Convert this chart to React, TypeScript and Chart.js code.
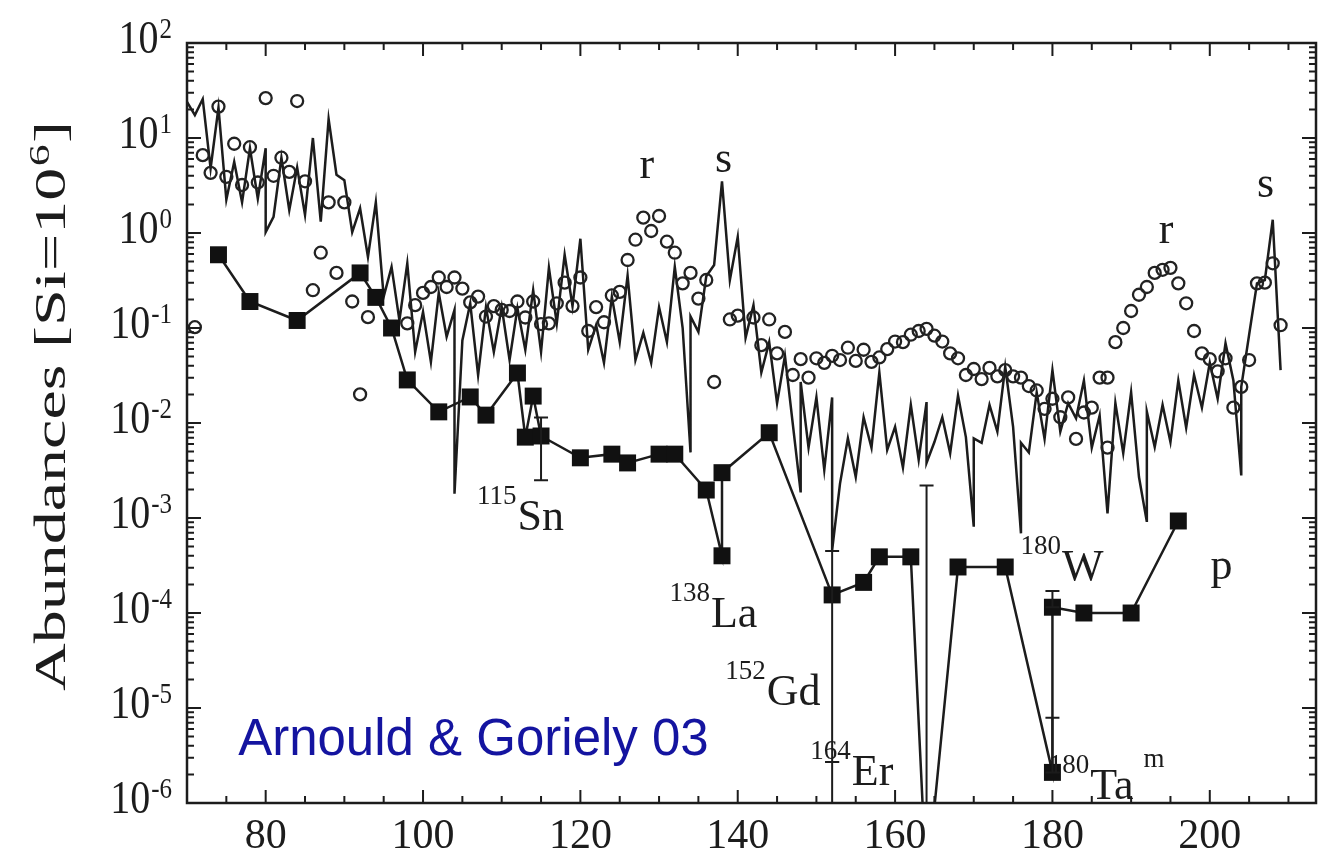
import React, { useEffect, useRef } from 'react';
import { Chart, registerables } from 'chart.js';
Chart.register(...registerables);

// Solar system abundances (solid line), mass number vs abundance
const lineMass = [70, 71, 72, 73, 74, 75, 76, 77, 78, 79, 80, 80, 81, 82, 83, 84, 85, 86, 87, 88, 89, 90, 91, 92, 93, 94, 95, 96, 97, 98, 99, 100, 101, 102, 103, 104, 104, 105, 106, 107, 108, 109, 110, 111, 112, 113, 114, 115, 116, 117, 118, 119, 120, 121, 122, 123, 124, 125, 126, 127, 128, 129, 130, 131, 132, 133, 134, 134, 135, 136, 137, 138, 139, 140, 141, 142, 143, 144, 145, 146, 148, 148, 149, 150, 151, 152, 152, 153, 154, 155, 156, 157, 158, 159, 160, 161, 162, 163, 164, 164, 165, 166, 167, 168, 169, 170, 170, 171, 172, 173, 174, 175, 176, 176, 177, 178, 179, 180, 181, 182, 183, 184, 185, 186, 187, 188, 189, 190, 191, 192, 192, 193, 194, 195, 196, 197, 198, 199, 200, 201, 202, 203, 204, 204, 205, 206, 207, 208, 209];
const lineAbund = [24, 17.4, 25.7, 4.8, 20.9, 2.24, 5.6, 2.1, 7.8, 2.3, 7.8, 1.02, 1.48, 6.2, 1.74, 4.9, 1.55, 10, 1.32, 15.8, 4.1, 3.6, 1.02, 1.82, 0.56, 2.1, 0.214, 0.44, 0.12, 0.48, 0.056, 0.148, 0.044, 0.234, 0.081, 0.155, 0.0018, 0.074, 0.182, 0.032, 0.166, 0.056, 0.166, 0.046, 0.162, 0.059, 0.25, 0.056, 0.43, 0.112, 0.59, 0.17, 0.87, 0.059, 0.107, 0.043, 0.214, 0.071, 0.355, 0.046, 0.089, 0.043, 0.166, 0.071, 0.44, 0.1, 0.0049, 0.132, 0.091, 0.35, 0.46, 3.5, 0.32, 0.91, 0.079, 0.174, 0.034, 0.071, 0.0162, 0.051, 0.00186, 0.027, 0.0055, 0.0186, 0.0032, 0.0186, 0.00046, 0.0023, 0.0069, 0.0027, 0.0115, 0.0055, 0.034, 0.0052, 0.0091, 0.0034, 0.0155, 0.0041, 0.0166, 0.0038, 0.0063, 0.0115, 0.0048, 0.0195, 0.0071, 0.00081, 0.0069, 0.0062, 0.0155, 0.0081, 0.039, 0.0091, 0.00069, 0.0062, 0.0049, 0.021, 0.0068, 0.036, 0.0081, 0.0162, 0.0112, 0.028, 0.0055, 0.012, 0.00112, 0.0162, 0.0048, 0.021, 0.0027, 0.00091, 0.0132, 0.0056, 0.0155, 0.0063, 0.028, 0.0089, 0.032, 0.0145, 0.043, 0.018, 0.069, 0.028, 0.0028, 0.024, 0.085, 0.295, 0.32, 1.38, 0.036];

// r-process abundances (open circles)
const rMass = [71, 72, 73, 74, 75, 76, 77, 78, 79, 80, 81, 82, 83, 84, 85, 86, 87, 88, 89, 90, 91, 92, 93, 96, 98, 99, 100, 101, 102, 103, 104, 105, 106, 107, 108, 109, 110, 111, 112, 113, 114, 115, 116, 117, 118, 119, 120, 121, 122, 123, 124, 125, 126, 127, 128, 129, 130, 131, 132, 133, 134, 135, 136, 137, 139, 140, 142, 143, 144, 145, 146, 147, 148, 149, 150, 151, 152, 153, 154, 155, 156, 157, 158, 159, 160, 161, 162, 163, 164, 165, 166, 167, 168, 169, 170, 171, 172, 173, 174, 175, 176, 177, 178, 179, 180, 181, 182, 183, 184, 185, 186, 187, 187, 188, 189, 190, 191, 192, 193, 194, 195, 196, 197, 198, 199, 200, 201, 202, 203, 204, 205, 206, 207, 208, 209];
const rAbund = [0.102, 6.6, 4.3, 21.4, 3.9, 8.7, 3.2, 8.0, 3.4, 26.3, 4.0, 6.2, 4.4, 24.5, 3.5, 0.25, 0.62, 2.1, 0.38, 2.1, 0.19, 0.02, 0.13, 0.102, 0.112, 0.174, 0.234, 0.27, 0.34, 0.27, 0.34, 0.26, 0.186, 0.214, 0.132, 0.17, 0.155, 0.151, 0.19, 0.129, 0.19, 0.11, 0.112, 0.182, 0.30, 0.17, 0.34, 0.093, 0.166, 0.115, 0.22, 0.24, 0.52, 0.85, 1.45, 1.05, 1.51, 0.81, 0.62, 0.295, 0.38, 0.204, 0.32, 0.027, 0.123, 0.135, 0.129, 0.066, 0.123, 0.054, 0.091, 0.032, 0.047, 0.030, 0.048, 0.043, 0.051, 0.046, 0.062, 0.045, 0.059, 0.044, 0.049, 0.060, 0.072, 0.071, 0.085, 0.093, 0.098, 0.083, 0.072, 0.054, 0.048, 0.032, 0.037, 0.029, 0.038, 0.031, 0.036, 0.031, 0.030, 0.0245, 0.022, 0.0141, 0.018, 0.0115, 0.0186, 0.0068, 0.0129, 0.0145, 0.030, 0.030, 0.0055, 0.071, 0.1, 0.151, 0.224, 0.27, 0.38, 0.41, 0.43, 0.295, 0.182, 0.093, 0.054, 0.047, 0.035, 0.048, 0.0145, 0.024, 0.046, 0.295, 0.30, 0.48, 0.107];

// p-nuclides (filled squares)
const pMass = [74, 78, 84, 92, 94, 96, 98, 102, 106, 108, 112, 113, 114, 115, 120, 124, 126, 130, 132, 136, 138, 138, 144, 152, 156, 158, 162, 164, 168, 174, 180, 180, 184, 190, 196];
const pAbund = [0.59, 0.19, 0.12, 0.38, 0.21, 0.10, 0.0284, 0.0131, 0.0188, 0.0121, 0.0336, 0.0071, 0.0192, 0.0073, 0.0043, 0.0047, 0.0038, 0.0047, 0.0047, 0.00197, 0.0004, 0.0030, 0.0079, 0.000155, 0.00021, 0.00039, 0.00039, 1.3e-7, 0.000305, 0.000305, 2.1e-6, 0.000115, 0.0001, 0.0001, 0.00093];

// error bars on p-nuclides
const errMass = [115, 152, 152, 164, 180, 180];
const errLow = [0.0025, 2.7e-6, 1e-7, 1e-7, 2.1e-6, 1.15e-4];
const errHigh = [0.0114, 4.5e-4, 2.7e-6, 2.2e-3, 7.9e-6, 1.7e-4];

// axis ticks
const xTickValues = [80, 100, 120, 140, 160, 180, 200];
const yTickExponents = [2, 1, 0, -1, -2, -3, -4, -5, -6];

// annotations (left-baseline anchor in data coordinates)
const annText = ['r', 's', 'r', 's', 'Sn', 'La', 'Gd', 'Er', 'W', 'p', 'Ta'];
const annSup = ['', '', '', '', '115', '138', '152', '164', '180', '', '180'];
const annSupAfter = ['', '', '', '', '', '', '', '', '', '', 'm'];
const annMass = [127.5, 137.1, 193.5, 206.0, 112.0, 136.6, 143.7, 154.5, 181.2, 200.1, 184.8];
const annAbund = [3.8, 4.4, 0.79, 2.4, 7.4e-4, 7.1e-5, 1.07e-5, 1.55e-6, 2.2e-4, 2.3e-4, 1.1e-6];

const creditText = 'Arnould & Goriely 03';
const creditMass = 76.5;
const creditAbund = 3.2e-6;

const SERIF = '"Liberation Serif", "Times New Roman", serif';
const INK = '#1c1c1c';

const decorPlugin = {
  id: 'decor',
  beforeDraw(chart: any) {
    const ctx = chart.ctx;
    ctx.save();
    ctx.fillStyle = '#ffffff';
    ctx.fillRect(0, 0, chart.width, chart.height);
    ctx.restore();
  },
  afterDatasetsDraw(chart: any) {
    const ctx = chart.ctx;
    const xs = chart.scales.x;
    const ys = chart.scales.y;
    const { left, right, top, bottom } = chart.chartArea;
    // error bars
    ctx.save();
    ctx.beginPath();
    ctx.rect(left, top, right - left, bottom - top);
    ctx.clip();
    ctx.strokeStyle = INK;
    ctx.lineWidth = 2;
    errMass.forEach((m, i) => {
      const px = xs.getPixelForValue(m);
      const pl = ys.getPixelForValue(errLow[i]);
      const ph = ys.getPixelForValue(errHigh[i]);
      ctx.beginPath();
      ctx.moveTo(px, pl);
      ctx.lineTo(px, ph);
      ctx.moveTo(px - 7, ph);
      ctx.lineTo(px + 7, ph);
      ctx.moveTo(px - 7, pl);
      ctx.lineTo(px + 7, pl);
      ctx.stroke();
    });
    ctx.restore();
  },
  afterDraw(chart: any) {
    const ctx = chart.ctx;
    const xs = chart.scales.x;
    const ys = chart.scales.y;
    const { left, right, top, bottom } = chart.chartArea;
    ctx.save();
    // frame
    ctx.strokeStyle = INK;
    ctx.lineWidth = 2.5;
    ctx.strokeRect(left, top, right - left, bottom - top);
    // x ticks (inward, every 5)
    ctx.lineWidth = 2;
    for (let v = 75; v <= xs.max; v += 5) {
      const px = xs.getPixelForValue(v);
      const len = v % 20 === 0 ? 13 : 7;
      ctx.beginPath();
      ctx.moveTo(px, bottom);
      ctx.lineTo(px, bottom - len);
      ctx.moveTo(px, top);
      ctx.lineTo(px, top + len);
      ctx.stroke();
    }
    // y ticks (log, inward)
    for (let e = -6; e <= 1; e++) {
      for (let k = 1; k <= 9; k++) {
        const v = k * Math.pow(10, e);
        const py = ys.getPixelForValue(v);
        const len = k === 1 ? 14 : 7;
        ctx.beginPath();
        ctx.moveTo(left, py);
        ctx.lineTo(left + len, py);
        ctx.moveTo(right, py);
        ctx.lineTo(right - len, py);
        ctx.stroke();
      }
    }
    // y tick labels
    ctx.fillStyle = INK;
    yTickExponents.forEach((e) => {
      const py = ys.getPixelForValue(Math.pow(10, e));
      const expStr = String(e);
      ctx.font = '25px ' + SERIF;
      const ew = ctx.measureText(expStr).width;
      ctx.textAlign = 'right';
      ctx.textBaseline = 'alphabetic';
      ctx.save();
      ctx.translate(172, py - 5);
      ctx.scale(1, 1.18);
      ctx.fillText(expStr, 0, 0);
      ctx.restore();
      ctx.font = '40px ' + SERIF;
      ctx.save();
      ctx.translate(172 - ew - 1, py + 10);
      ctx.scale(1, 1.18);
      ctx.fillText('10', 0, 0);
      ctx.restore();
    });
    // y axis title
    ctx.save();
    ctx.translate(65, 406);
    ctx.rotate(-Math.PI / 2);
    ctx.textAlign = 'left';
    ctx.textBaseline = 'alphabetic';
    const mainT = 'Abundances [Si=10';
    ctx.font = '44px ' + SERIF;
    const w1 = ctx.measureText(mainT).width;
    const w3 = ctx.measureText(']').width;
    ctx.font = '29px ' + SERIF;
    const w2 = ctx.measureText('6').width;
    const total = w1 + w2 + w3 + 2;
    ctx.scale(570 / total, 1);
    let cx = -total / 2;
    ctx.font = '44px ' + SERIF;
    ctx.fillText(mainT, cx, 0);
    cx += w1 + 1;
    ctx.font = '29px ' + SERIF;
    ctx.fillText('6', cx, -16);
    cx += w2 + 1;
    ctx.font = '44px ' + SERIF;
    ctx.fillText(']', cx, 0);
    ctx.restore();
    // annotations
    ctx.textBaseline = 'alphabetic';
    annText.forEach((t, i) => {
      const px = xs.getPixelForValue(annMass[i]);
      const py = ys.getPixelForValue(annAbund[i]);
      ctx.font = '44px ' + SERIF;
      ctx.textAlign = 'left';
      ctx.fillText(t, px, py);
      const tw = ctx.measureText(t).width;
      if (annSup[i]) {
        ctx.font = '27px ' + SERIF;
        ctx.textAlign = 'right';
        ctx.fillText(annSup[i], px - 1, py - 26);
      }
      if (annSupAfter[i]) {
        ctx.font = '27px ' + SERIF;
        ctx.textAlign = 'left';
        ctx.fillText(annSupAfter[i], px + tw + 10, py - 32);
      }
    });
    // credit
    ctx.font = '51px "Liberation Sans", Arial, sans-serif';
    ctx.fillStyle = '#1414a0';
    ctx.textAlign = 'left';
    ctx.fillText(creditText, xs.getPixelForValue(creditMass), ys.getPixelForValue(creditAbund));
    ctx.restore();
  },
};

export default function App() {
  const ref = useRef<HTMLCanvasElement>(null);
  useEffect(() => {
    document.body.style.margin = '0';
    const canvas = ref.current;
    if (!canvas) return;
    const chart = new Chart(canvas, {
      type: 'line',
      data: {
        datasets: [
          {
            label: 'p-nuclides',
            data: pMass.map((m, i) => ({ x: m, y: pAbund[i] })),
            borderColor: INK,
            borderWidth: 2.5,
            pointStyle: 'rect',
            pointRadius: 12,
            pointBackgroundColor: '#111',
            pointBorderWidth: 0,
            tension: 0,
            order: 1,
          },
          {
            label: 'r-process',
            data: rMass.map((m, i) => ({ x: m, y: rAbund[i] })),
            showLine: false,
            pointStyle: 'circle',
            pointRadius: 6,
            pointBorderWidth: 2.3,
            pointBorderColor: '#222',
            pointBackgroundColor: 'rgba(255,255,255,0)',
            order: 2,
          },
          {
            label: 'solar',
            data: lineMass.map((m, i) => ({ x: m, y: lineAbund[i] })),
            borderColor: INK,
            borderWidth: 2.5,
            pointRadius: 0,
            tension: 0,
            order: 3,
          },
        ],
      },
      options: {
        responsive: false,
        animation: false,
        devicePixelRatio: 1,
        layout: { padding: { left: 187, top: 43, right: 10, bottom: 0 } },
        plugins: { legend: { display: false }, tooltip: { enabled: false } },
        scales: {
          x: {
            type: 'linear',
            min: 70,
            max: 213.5,
            grid: { display: false, drawTicks: false },
            border: { display: false },
            afterBuildTicks: (s: any) => {
              s.ticks = xTickValues.map((v) => ({ value: v }));
            },
            afterFit: (s: any) => {
              s.height = 54;
            },
            ticks: {
              autoSkip: false,
              maxRotation: 0,
              padding: 9,
              color: INK,
              font: { family: SERIF, size: 42 },
              callback: (v: any) => String(v),
            },
          },
          y: {
            type: 'logarithmic',
            min: 1e-6,
            max: 1e2,
            display: false,
          },
        },
      },
      plugins: [decorPlugin],
    } as any);
    return () => chart.destroy();
  }, []);
  return (
    <div style={{ width: 1328, height: 857, background: '#fff' }}>
      <canvas ref={ref} width={1328} height={857} style={{ display: 'block' }} />
    </div>
  );
}
